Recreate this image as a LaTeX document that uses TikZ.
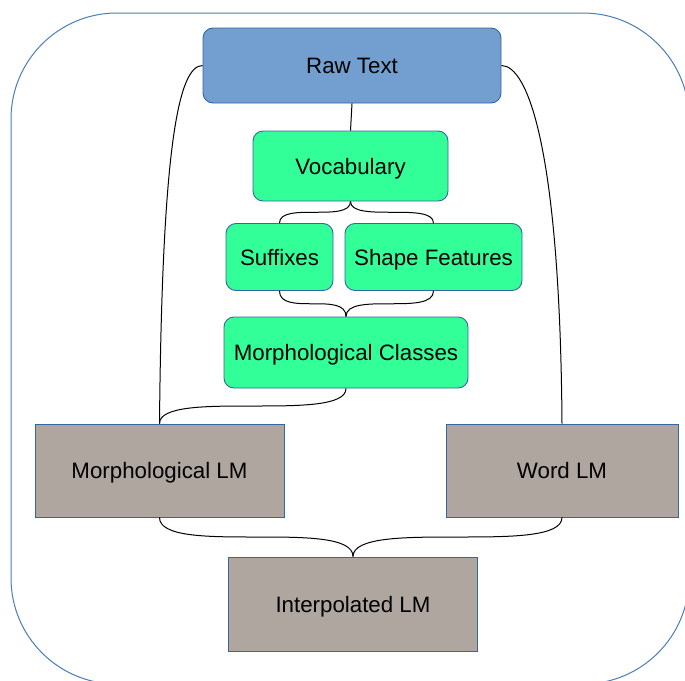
\documentclass[tikz,border=0pt]{standalone}
\usepackage{fontspec}
\setmainfont{Liberation Sans}
\usetikzlibrary{calc}
\definecolor{rawfill}{HTML}{729FCF}
\definecolor{edgeblue}{HTML}{3465A4}
\definecolor{frameblue}{HTML}{4A7EBB}
\definecolor{greenfill}{HTML}{33FF99}
\definecolor{lmfill}{HTML}{AEA69F}
\tikzset{
  box/.style={draw=edgeblue, line width=0.9pt, inner sep=0pt, text=black,
    font=\fontsize{22.3}{26}\selectfont, text height=16pt, text depth=0pt},
  rawbox/.style={box, fill=rawfill, rounded corners=10pt},
  greenbox/.style={box, fill=greenfill, rounded corners=10pt},
  lmbox/.style={box, fill=lmfill},
  conn/.style={draw=black, line width=1pt},
}
\begin{document}
\begin{tikzpicture}[x=1pt, y=-1pt]
  \useasboundingbox (0,0) rectangle (685,680);
  \clip (0,0) rectangle (685,680);
  % outer frame
  \draw[frameblue, line width=1pt, rounded corners=106pt] (11,13) rectangle (689,684);

  % nodes
  \node[rawbox, minimum width=298pt, minimum height=75pt] (raw) at (352,65.5) {Raw Text};
  \node[greenbox, minimum width=195pt, minimum height=70pt] (voc) at (350.5,166) {Vocabulary};
  \node[greenbox, minimum width=107pt, minimum height=67pt] (suf) at (279.5,257) {Suffixes};
  \node[greenbox, minimum width=177pt, minimum height=67pt] (shp) at (433.5,257) {Shape Features};
  \node[greenbox, minimum width=244pt, minimum height=71pt] (mc) at (346,352.5) {Morphological Classes};
  \node[lmbox, minimum width=249pt, minimum height=93pt] (mlm) at (159.5,470.5) {Morphological LM};
  \node[lmbox, minimum width=232pt, minimum height=93pt] (wlm) at (562,470.5) {Word LM};
  \node[lmbox, minimum width=249pt, minimum height=94pt] (ilm) at (353,604) {Interpolated LM};

  % connectors
  \draw[conn] (raw.south) -- (voc.north);
  \draw[conn] (raw.west) .. controls (178,65.5) and (162,150) .. (mlm.north);
  \draw[conn] (raw.east) .. controls (528,65.5) and (560,150) .. (wlm.north);

  \draw[conn] (voc.south) .. controls (voc.south |- suf.north) and (suf.north |- voc.south) .. (suf.north);
  \draw[conn] (voc.south) .. controls (voc.south |- shp.north) and (shp.north |- voc.south) .. (shp.north);

  \draw[conn] (suf.south) .. controls (suf.south |- mc.north) and (mc.north |- suf.south) .. (mc.north);
  \draw[conn] (shp.south) .. controls (shp.south |- mc.north) and (mc.north |- shp.south) .. (mc.north);

  \draw[conn] (mc.south) .. controls (mc.south |- mlm.north) and (mlm.north |- mc.south) .. (mlm.north);

  \draw[conn] (mlm.south) .. controls (mlm.south |- ilm.north) and (ilm.north |- mlm.south) .. (ilm.north);
  \draw[conn] (wlm.south) .. controls (wlm.south |- ilm.north) and (ilm.north |- wlm.south) .. (ilm.north);
\end{tikzpicture}
\end{document}
